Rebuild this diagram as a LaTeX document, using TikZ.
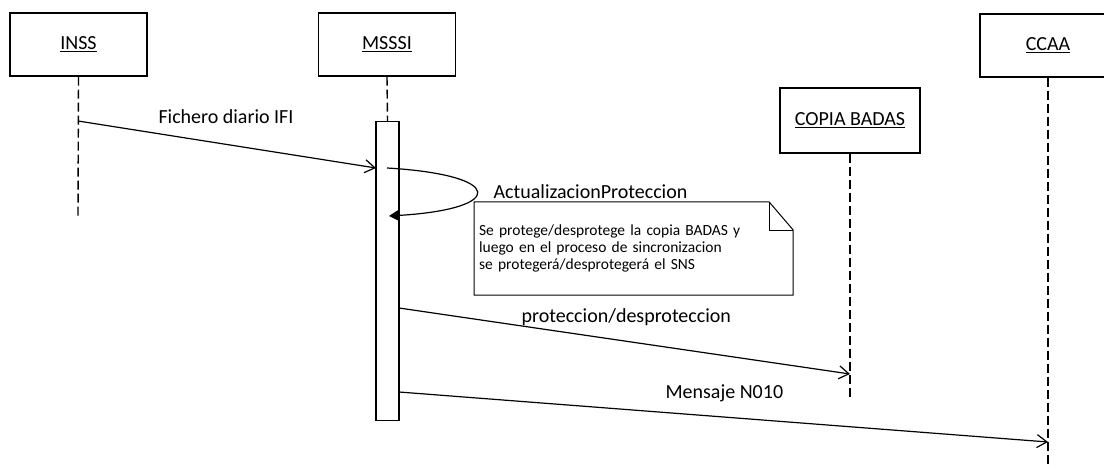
\documentclass[tikz,border=0pt]{standalone}
\usepackage{fontspec}
\setmainfont{Carlito}
\usetikzlibrary{arrows.meta,calc}

\begin{document}
\begin{tikzpicture}[x=1pt,y=-1pt,line width=1.2pt,
    actor/.style={draw,minimum width=137pt,minimum height=63pt,inner sep=0pt,font=\fontsize{20}{24}\selectfont},
    lifeline/.style={line width=1.4pt,dash pattern=on 9pt off 4pt},
    msg/.style={-{Straight Barb[length=10pt,width=13pt]}},
    msglabel/.style={anchor=base,inner sep=0pt,font=\fontsize{20}{24}\selectfont}]
      \clip (0,0) rectangle (1104,468);
      % actors
      \node[actor] (inss) at (78.5,44.5) {\underline{INSS}};
      \node[actor] (msssi) at (387,44.5) {\underline{MSSSI}};
      \node[actor,minimum width=140pt,minimum height=65pt] (copia) at (850,120.5) {\underline{COPIA BADAS}};
      \node[actor,minimum width=136pt] (ccaa) at (1048,45.5) {\underline{CCAA}};
      % activation bar
      \node[draw,minimum width=23pt,minimum height=299pt,inner sep=0pt,anchor=north] (bar) at (387.5,121) {};
      % lifeline ends
      \coordinate (inssend) at (78,217);
      \coordinate (copiaend) at (850,397);
      \coordinate (ccaaend) at (1048,468);
      % lifelines
      \draw[lifeline] (inss.south) -- (inssend);
      \draw[lifeline] (msssi.south) -- (bar.north);
      \draw[lifeline] (copia.south) -- (copiaend);
      \draw[lifeline] (ccaa.south) -- (ccaaend);
      % message ends
      \coordinate (ficheroa) at (78,121);
      \coordinate (ficherob) at (376,168);
      \coordinate (selfa) at (387,168);
      \coordinate (selfb) at (389,216);
      \coordinate (prota) at (399,308);
      \coordinate (protb) at (850,374);
      \coordinate (mensa) at (399,392);
      \coordinate (mensb) at (1048,442);
      % messages
      \draw[msg] (ficheroa) -- (ficherob);
      \draw[-{Triangle[length=10pt,width=11pt]}] (selfa) .. controls (506,175) and (506,209) .. (selfb);
      \draw[msg] (prota) -- (protb);
      \draw[msg] (mensa) -- (mensb);
      % message labels
      \node[msglabel] (ficherolbl) at (226,124) {Fichero diario IFI};
      \node[msglabel,anchor=base west] (actlbl) at (493,199) {ActualizacionProteccion};
      \node[msglabel,anchor=base west] (protlbl) at (521,322) {proteccion/desproteccion};
      \node[msglabel,anchor=base west] (menslbl) at (665,398) {Mensaje N010};
      % note
      \node[anchor=north west,minimum width=318pt,minimum height=92pt,text width=309pt,inner xsep=4.5pt,align=left,
        font=\fontsize{15.5}{17}\selectfont] (note) at (474,202)
        {Se protege/desprotege la copia BADAS y\\luego en el proceso de sincronizacion\\se protegerá/desprotegerá el SNS};
      \draw[line width=1pt] (note.north west) -- ($(note.north east)+(-24,0)$) -- ($(note.north east)+(0,28)$)
        -- (note.south east) -- (note.south west) -- cycle;
      \draw[line width=1pt] ($(note.north east)+(-24,0)$) -- ($(note.north east)+(-24,28)$) -- ($(note.north east)+(0,28)$);
\end{tikzpicture}
\end{document}
